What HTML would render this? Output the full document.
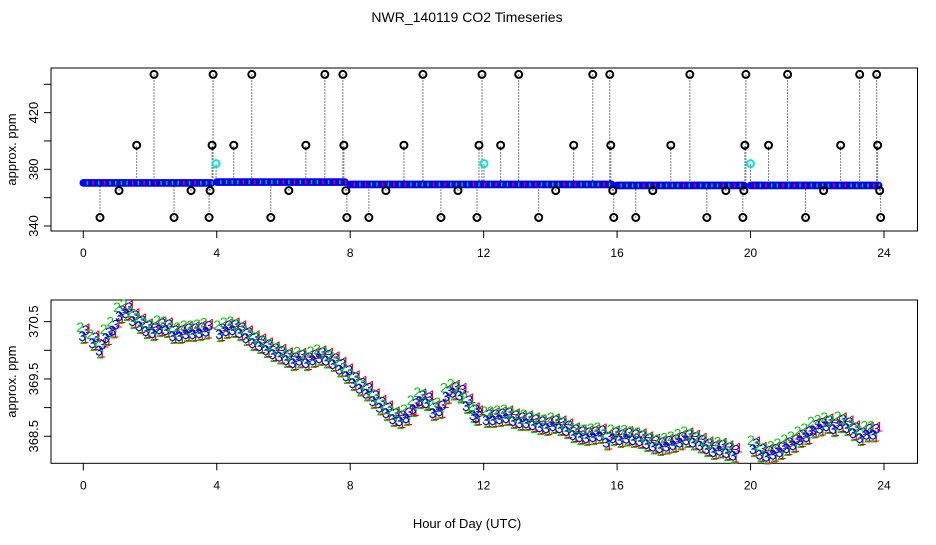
<!DOCTYPE html>
<html><head><meta charset="utf-8"><style>
body{margin:0;background:#fff}
svg text{font-family:"Liberation Sans",sans-serif}
</style></head><body>
<svg id="chart" width="936" height="540" xmlns="http://www.w3.org/2000/svg">
<rect width="936" height="540" fill="#fff"/>
<text x="467" y="22" font-size="14" text-anchor="middle">NWR_140119  CO2 Timeseries</text>
<text x="467" y="528" font-size="13" text-anchor="middle">Hour of Day (UTC)</text>
<g id="top"></g>
<g id="bot"></g>
</svg>
<script>
// ---- top panel data ----
const topYTicks=[340,360,380,400,420,440];
const topYLabels=["340","","380","","420",""];
const xTicks=[0,4,8,12,16,20,24];
const baseStart=[0.0,4.0,8.0,16.0,20.0];
const baseEnd=[3.85,7.85,15.85,19.8,23.85];
const baseLevel=[370.4,371.0,369.3,368.6,368.6];
// outlier events: hour, value, cyan flag
const outHours=[0.5,1.07,1.6,2.12,2.72,3.23,3.77,3.8,3.86,3.89,3.98,4.51,5.05,5.62,6.16,6.67,7.24,7.78,7.81,7.87,7.9,8.56,9.07,9.61,10.18,10.72,11.23,11.8,11.86,11.95,12.01,12.51,13.05,13.65,14.16,14.7,15.27,15.78,15.81,15.87,15.9,16.56,17.07,17.61,18.18,18.69,19.26,19.77,19.8,19.83,19.86,20.0,20.54,21.11,21.65,22.19,22.7,23.27,23.78,23.81,23.87,23.9];
const outValues=[346,365,397,447,346,365,346,365,397,447,384,397,447,346,365,397,447,447,397,365,346,346,365,397,447,346,365,346,397,447,384,397,447,346,365,397,447,447,397,365,346,346,365,397,447,346,365,346,365,397,447,384,397,447,346,365,397,447,447,397,365,346];
const outCyan=[0,0,0,0,0,0,0,0,0,0,1,0,0,0,0,0,0,0,0,0,0,0,0,0,0,0,0,0,0,0,1,0,0,0,0,0,0,0,0,0,0,0,0,0,0,0,0,0,0,0,0,1,0,0,0,0,0,0,0,0,0,0];
// ---- bottom panel data ----
const botYTicks=[368.5,369,369.5,370,370.5];
const botYLabels=["368.5","","369.5","","370.5"];
const botHours=[0,0.3,0.5,0.7,0.9,1.1,1.3,1.5,1.7,1.9,2.1,2.3,2.5,2.7,2.9,3.1,3.3,3.5,3.7,4.1,4.3,4.5,4.7,4.9,5.1,5.3,5.5,5.7,5.9,6.1,6.3,6.5,6.7,6.9,7.1,7.3,7.5,7.7,7.9,8.1,8.3,8.5,8.7,8.9,9.1,9.3,9.5,9.7,9.9,10.1,10.3,10.5,10.7,10.9,11.1,11.3,11.5,11.7,11.8,12.1,12.3,12.5,12.7,12.9,13.1,13.3,13.5,13.7,13.9,14.1,14.3,14.5,14.7,14.9,15.1,15.3,15.5,15.7,15.9,16.1,16.3,16.5,16.7,16.9,17.1,17.3,17.5,17.7,17.9,18.1,18.3,18.5,18.7,18.9,19.1,19.3,19.5,20.1,20.3,20.5,20.7,20.9,21.1,21.3,21.5,21.7,21.9,22.1,22.3,22.5,22.7,22.9,23.1,23.3,23.5,23.7];
const botValues=[370.30,370.18,370.05,370.27,370.40,370.65,370.70,370.56,370.48,370.39,370.35,370.42,370.41,370.30,370.30,370.34,370.34,370.35,370.38,370.34,370.39,370.41,370.35,370.27,370.18,370.13,370.06,369.99,369.94,369.88,369.83,369.87,369.83,369.88,369.92,369.87,369.81,369.72,369.60,369.48,369.39,369.30,369.17,369.05,368.96,368.85,368.82,368.87,369.03,369.17,369.13,368.96,368.99,369.25,369.32,369.26,369.08,368.92,368.87,368.84,368.84,368.85,368.87,368.82,368.78,368.78,368.75,368.71,368.70,368.73,368.70,368.64,368.57,368.54,368.52,368.54,368.56,368.44,368.52,368.49,368.51,368.49,368.47,368.42,368.37,368.35,368.37,368.40,368.44,368.49,368.44,368.39,368.33,368.28,368.30,368.26,368.22,368.33,368.23,368.20,368.23,368.28,368.35,368.40,368.49,368.54,368.65,368.69,368.73,368.68,368.75,368.70,368.61,368.52,368.58,368.58];

const NS='http://www.w3.org/2000/svg';
function mk(tag,attrs,parent){const e=document.createElementNS(NS,tag);for(const k in attrs)e.setAttribute(k,attrs[k]);parent.appendChild(e);return e;}
const X0=51,X1=917.5;
function xs(h){return 83.3+h*(884-83.3)/24;}
function yTop(v){return 226-(v-340)*(226-84.3)/100;}
function yBot(v){return 350.3-(v-370)*57.3;}

function axes(g,top,bottom,ys,ticks,labels,pre){
  const r=mk('rect',{x:X0,y:top,width:X1-X0,height:bottom-top,fill:'none',stroke:'#000','stroke-width':1},g);
  
  
  xTicks.forEach(t=>{
    const l=mk('line',{x1:xs(t),x2:xs(t),y1:bottom,y2:bottom+7,stroke:'#000'},g);
    
    
    const tx=mk('text',{x:xs(t),y:bottom+26,'font-size':12,'text-anchor':'middle'},g);
    tx.textContent=String(t);
    
    
  });
  ticks.forEach((t,i)=>{
    const y=ys(t);
    const l=mk('line',{x1:X0-7,x2:X0,y1:y,y2:y,stroke:'#000'},g);
    
    
    if(labels[i]){
      const tx=mk('text',{x:0,y:0,'font-size':13,'text-anchor':'middle',transform:`translate(38,${y}) rotate(-90)`},g);
      tx.textContent=labels[i];
      
      
    }
  });
  const yt=mk('text',{x:0,y:0,'font-size':13,'text-anchor':'middle',transform:`translate(16,${(top+bottom)/2}) rotate(-90)`},g);
  yt.textContent='approx. ppm';
  
  
}

// top panel
const gt=document.getElementById('top');
axes(gt,68,231,yTop,topYTicks,topYLabels,'top');
outHours.forEach((h,i)=>{
  const ln=mk('line',{x1:xs(h),x2:xs(h),y1:yTop(370),y2:yTop(outValues[i]),stroke:'#000','stroke-width':1,'stroke-dasharray':'1,2'},gt);
  
  
});
baseStart.forEach((s,i)=>{
  const y=yTop(baseLevel[i]);
  const colors=['#0000ff','#00cc00','#ff0000'];
  for(let h=s;h<=baseEnd[i];h+=0.04){
    const c=mk('circle',{cx:xs(h),cy:y,r:3,fill:'none',stroke:'#0000ff','stroke-width':1.6},gt);
    
    
  }
  for(let h=s+0.1;h<=baseEnd[i];h+=0.17){
    const k=Math.round(h*10)%3===0?2:1;
    const c=mk('rect',{x:xs(h),y:y-2,width:1.5,height:4,fill:colors[k]},gt);
    
    
  }
});
outHours.forEach((h,i)=>{
  const c=mk('circle',{cx:xs(h),cy:yTop(outValues[i]),r:3.5,fill:'none',stroke:outCyan[i]?'#00e5e5':'#000','stroke-width':2},gt);
  
  
});

// bottom panel
const gb=document.getElementById('bot');
axes(gb,300,463.3,yBot,botYTicks,botYLabels,'bottom');
const chans=['1','2','3'];
const ccol=['#ff0000','#00cc00','#0000ff'];
const dx=[2,-3,-1],dy=[5,-6,3];
botHours.forEach((h,i)=>{
  for(let k=0;k<3;k++){
    const t=mk('text',{x:xs(h)+dx[k],y:yBot(botValues[i])+5+dy[k],'font-size':14,'text-anchor':'middle',fill:ccol[k]},gb);
    t.textContent=chans[k];
    
    
    const t2=mk('text',{x:xs(h)+dx[k]+3.3,y:yBot(botValues[i])+5-dy[k],'font-size':14,'text-anchor':'middle',fill:ccol[k]},gb);
    t2.textContent=chans[k];
    
    
  }
});
</script>
</body></html>
